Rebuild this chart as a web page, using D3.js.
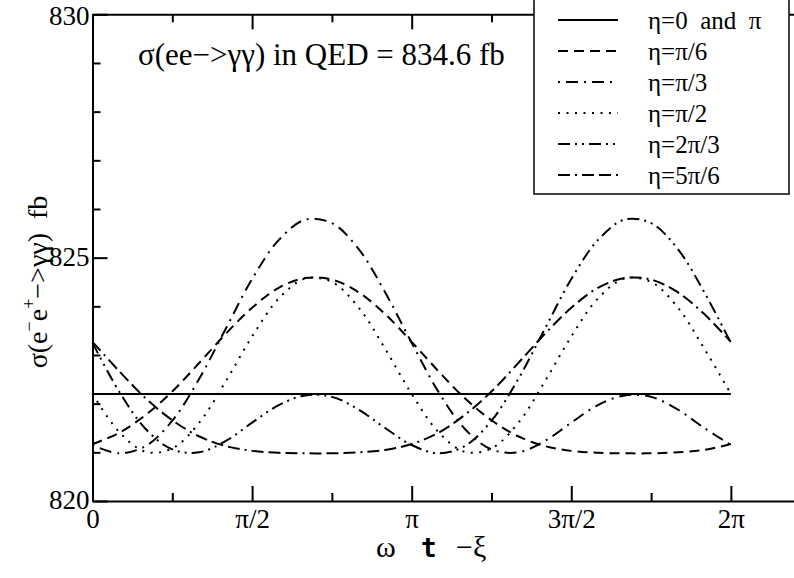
<!DOCTYPE html>
<html lang="en">
<head>
<meta charset="utf-8">
<title>sigma vs omega t - xi</title>
<script src="https://cdn.jsdelivr.net/npm/d3@7"></script>
<style>
  body { margin: 0; background: #fff; }
  .tick text { font-size: 27px; }
  .domain, .tick line { stroke: #000; stroke-width: 2; }
</style>
</head>
<body>
<script>

// sample points along omega*t - xi : k*pi/12, k = 0..24
var phase = d3.range(25).map(function(k) { return k * Math.PI / 12; });

// cross sections (fb) at those phases
var eta0    = [822.2, 822.2, 822.2, 822.2, 822.2, 822.2, 822.2, 822.2, 822.2, 822.2, 822.2, 822.2, 822.2,
               822.2, 822.2, 822.2, 822.2, 822.2, 822.2, 822.2, 822.2, 822.2, 822.2, 822.2, 822.2];
var etaPi6  = [821.17, 821.40, 821.77, 822.25, 822.83, 823.43, 823.97, 824.38, 824.58, 824.55, 824.29, 823.84, 823.27,
               822.67, 822.11, 821.66, 821.33, 821.13, 821.03, 820.99, 820.98, 820.98, 821.00, 821.05, 821.17];
var etaPi3  = [821.15, 820.98, 821.13, 821.65, 822.50, 823.53, 824.56, 825.36, 825.78, 825.71, 825.18, 824.29, 823.25,
               822.25, 821.48, 821.06, 821.00, 821.23, 821.61, 821.97, 822.17, 822.14, 821.88, 821.50, 821.15];
var etaPi2  = [822.20, 821.42, 821.01, 821.08, 821.60, 822.45, 823.38, 824.16, 824.57, 824.50, 823.98, 823.13, 822.20,
               821.42, 821.01, 821.08, 821.60, 822.45, 823.38, 824.16, 824.57, 824.50, 823.98, 823.13, 822.20];
var eta2Pi3 = [823.25, 822.25, 821.48, 821.06, 821.00, 821.23, 821.61, 821.97, 822.17, 822.14, 821.88, 821.50, 821.15,
               820.98, 821.13, 821.65, 822.50, 823.53, 824.56, 825.36, 825.78, 825.71, 825.18, 824.29, 823.25];
var eta5Pi6 = [823.27, 822.67, 822.11, 821.66, 821.33, 821.13, 821.03, 820.99, 820.98, 820.98, 821.00, 821.05, 821.17,
               821.40, 821.77, 822.25, 822.83, 823.43, 823.97, 824.38, 824.58, 824.55, 824.29, 823.84, 823.27];

var legendNames = ["η=0  and  π", "η=π/6", "η=π/3", "η=π/2", "η=2π/3", "η=5π/6"];

var xMajor = [0, Math.PI / 2, Math.PI, 3 * Math.PI / 2, 2 * Math.PI];
var xMinor = [Math.PI / 4, 3 * Math.PI / 4, 5 * Math.PI / 4, 7 * Math.PI / 4];
var xTickLabels = ["0", "π/2", "π", "3π/2", "2π"];
var yMajor = [820, 825, 830];
var yMinor = [821, 822, 823, 824, 826, 827, 828, 829];

var series = [eta0, etaPi6, etaPi3, etaPi2, eta2Pi3, eta5Pi6];
var dashes = [null, "10,6", "2,6,12,6", "2,6.5", "12,5,2,5,2,5", "12,5,2,5,12,5,12,5"];

var serif = "Liberation Serif";

var w = 794, h = 578;

var x = d3.scaleLinear().domain([0, 7]).range([92.5, 803.7]);
var y = d3.scaleLinear().domain([820, 830]).range([501, 14.3]);

var svg = d3.select("body").append("svg")
            .attr("width", w)
            .attr("height", h)
            .attr("font-family", serif);

svg.append("rect").attr("width", w).attr("height", h).attr("fill", "#fff");

//Curves
var line = d3.line()
             .x(function(d, i) { return x(phase[i]); })
             .y(function(d) { return y(d); })
             .curve(d3.curveCatmullRom);

svg.selectAll("path.curve")
   .data(series)
   .enter()
   .append("path")
   .attr("class", "curve")
   .attr("d", line)
   .attr("fill", "none")
   .attr("stroke", "#000")
   .attr("stroke-width", 2)
   .attr("stroke-dasharray", function(d, i) { return dashes[i]; });

//Axes
function clean(g) {
  g.attr("font-size", null).attr("font-family", serif);
}

svg.append("g")
   .attr("transform", "translate(0," + y(820) + ")")
   .call(d3.axisBottom(x).tickValues(xMajor)
           .tickFormat(function(d, i) { return xTickLabels[i]; })
           .tickSizeInner(-15).tickSizeOuter(0).tickPadding(8))
   .call(clean);

svg.append("g")
   .attr("transform", "translate(0," + y(820) + ")")
   .call(d3.axisBottom(x).tickValues(xMinor).tickFormat("")
           .tickSizeInner(-8).tickSizeOuter(0))
   .call(function(g) { g.select(".domain").remove(); });

svg.append("g")
   .attr("transform", "translate(0," + y(830) + ")")
   .call(d3.axisTop(x).tickValues(xMajor).tickFormat("")
           .tickSizeInner(-15).tickSizeOuter(0));

svg.append("g")
   .attr("transform", "translate(0," + y(830) + ")")
   .call(d3.axisTop(x).tickValues(xMinor).tickFormat("")
           .tickSizeInner(-8).tickSizeOuter(0))
   .call(function(g) { g.select(".domain").remove(); });

svg.append("g")
   .attr("transform", "translate(" + x(0) + ",0)")
   .call(d3.axisLeft(y).tickValues(yMajor).tickFormat(d3.format("d"))
           .tickSizeInner(-15).tickSizeOuter(0).tickPadding(3))
   .call(clean)
   .call(function(g) {
     g.selectAll("text").attr("dy", function(d) { return d === 830 ? "0.36em" : "0.28em"; });
   });

svg.append("g")
   .attr("transform", "translate(" + x(0) + ",0)")
   .call(d3.axisLeft(y).tickValues(yMinor).tickFormat("")
           .tickSizeInner(-8).tickSizeOuter(0))
   .call(function(g) { g.select(".domain").remove(); });

//Annotation
svg.append("text")
   .attr("x", 138)
   .attr("y", 65)
   .attr("font-size", 31)
   .text("σ(ee−>γγ) in QED = 834.6 fb");

//Y title
var yt = svg.append("text")
            .attr("transform", "translate(47,282) rotate(-90)")
            .attr("text-anchor", "middle")
            .attr("font-size", 28)
            .attr("xml:space", "preserve");
yt.append("tspan").text("σ(e");
yt.append("tspan").attr("font-size", 18).attr("dy", -12).text("−");
yt.append("tspan").attr("dy", 12).text("e");
yt.append("tspan").attr("font-size", 18).attr("dy", -12).text("+");
yt.append("tspan").attr("dy", 12).text("−>γγ)  fb");

//X title
svg.append("text").attr("x", 376).attr("y", 557).attr("font-size", 30).text("ω");
svg.append("text").attr("x", 421).attr("y", 557).attr("font-size", 26)
   .attr("font-family", "DejaVu Sans Mono").attr("font-weight", "bold").text("t");
svg.append("text").attr("x", 456).attr("y", 557).attr("font-size", 30).text("−ξ");

//Legend
var legend = svg.append("g");
legend.append("rect")
      .attr("x", 534).attr("y", -2)
      .attr("width", 255).attr("height", 196)
      .attr("fill", "#fff").attr("stroke", "#000").attr("stroke-width", 1.5);

var rows = legend.selectAll("g.row")
                 .data(legendNames)
                 .enter()
                 .append("g")
                 .attr("class", "row")
                 .attr("transform", function(d, i) { return "translate(0," + (20 + i * 31) + ")"; });

rows.append("line")
    .attr("x1", 558).attr("x2", 618)
    .attr("stroke", "#000").attr("stroke-width", 2)
    .attr("stroke-dasharray", function(d, i) { return dashes[i]; });

rows.append("text")
    .attr("x", 648)
    .attr("dy", "0.35em")
    .attr("font-size", 25)
    .attr("xml:space", "preserve")
    .text(function(d) { return d; });

</script>
</body>
</html>
